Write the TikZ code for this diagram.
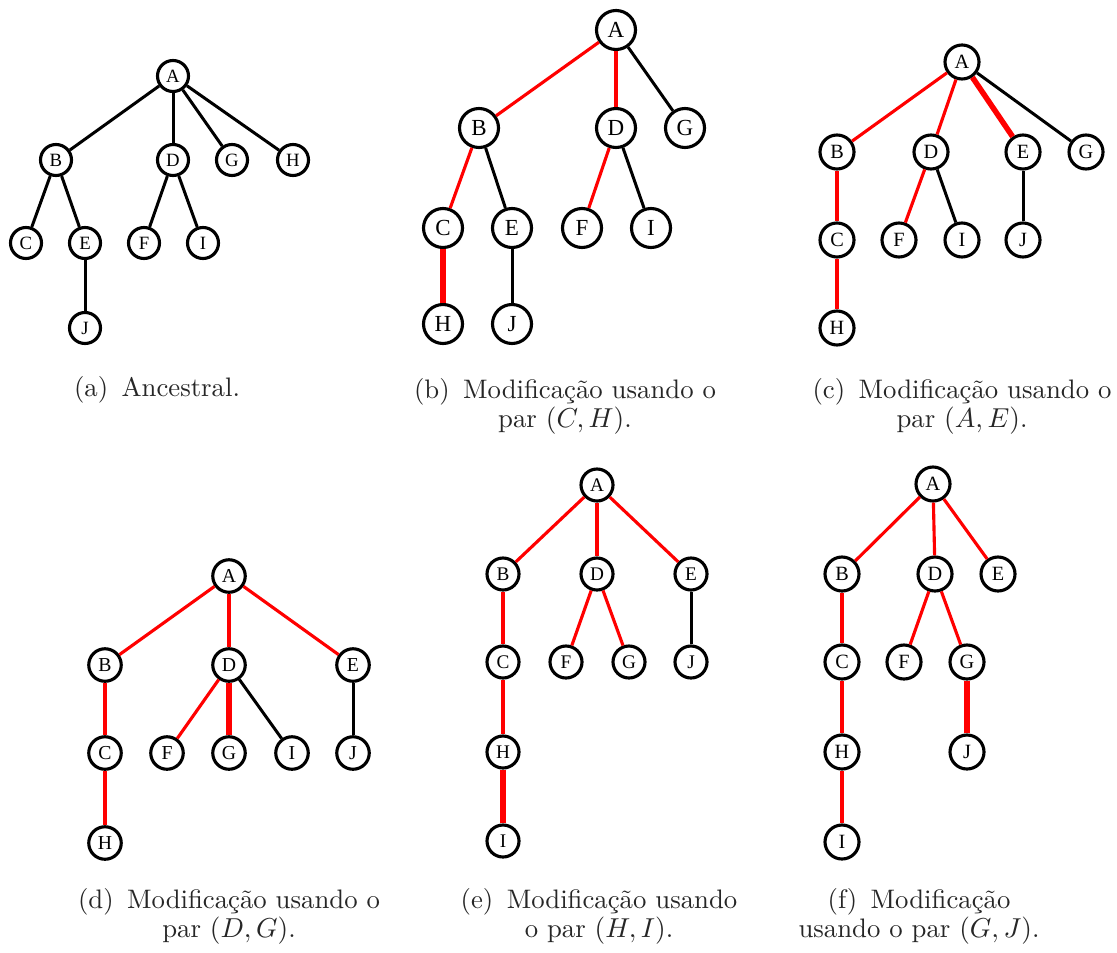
\documentclass[tikz,border=0pt]{standalone}
\usepackage{fontspec}
\newfontfamily\vfont{Liberation Serif}
\tikzset{
  vtx/.style 2 args={circle, draw, line width=1.25pt, inner sep=0pt,
    minimum size=#1, font={\vfont\fontsize{#2}{#2}\selectfont}},
  bedge/.style={draw=black, line width=1.2pt},
  redge/.style={draw=red, line width=1.25pt},
  tedge/.style={draw=red, line width=2.2pt},
  capt/.style={anchor=base, align=center, text=black!85,
    font=\fontsize{10.7}{11.4}\selectfont},
}
\begin{document}
\begin{tikzpicture}[x=0.4pt, y=-0.4pt]
\useasboundingbox (0,0) rectangle (1117,952);

% (a) original tree
\begin{scope}[vertex/.style={vtx={12.4pt}{7.5pt}}]
  \node[vertex] (aA) at (173,76) {A};
  \node[vertex] (aB) at (56,160) {B};
  \node[vertex] (aD) at (173,160) {D};
  \node[vertex] (aG) at (232,160) {G};
  \node[vertex] (aH) at (293,160) {H};
  \node[vertex] (aC) at (26,243) {C};
  \node[vertex] (aE) at (85,243) {E};
  \node[vertex] (aF) at (144,243) {F};
  \node[vertex] (aI) at (203,243) {I};
  \node[vertex] (aJ) at (85,328) {J};
  \path[bedge] (aA) -- (aB);
  \path[bedge] (aA) -- (aD);
  \path[bedge] (aA) -- (aG);
  \path[bedge] (aA) -- (aH);
  \path[bedge] (aB) -- (aC);
  \path[bedge] (aB) -- (aE);
  \path[bedge] (aE) -- (aJ);
  \path[bedge] (aD) -- (aF);
  \path[bedge] (aD) -- (aI);
  \node[capt] (capa) at (157,396) {(a)\, Ancestral.};
\end{scope}

% (b) pair (C,H)
\begin{scope}[vertex/.style={vtx={15.6pt}{9.2pt}}]
  \node[vertex] (bA) at (616,30) {A};
  \node[vertex] (bB) at (479,128) {B};
  \node[vertex] (bD) at (616,128) {D};
  \node[vertex] (bG) at (685,128) {G};
  \node[vertex] (bC) at (443,228) {C};
  \node[vertex] (bE) at (512,228) {E};
  \node[vertex] (bF) at (582,228) {F};
  \node[vertex] (bI) at (651,228) {I};
  \node[vertex] (bH) at (443,324) {H};
  \node[vertex] (bJ) at (512,324) {J};
  \path[redge] (bA) -- (bB);
  \path[redge] (bA) -- (bD);
  \path[bedge] (bA) -- (bG);
  \path[redge] (bB) -- (bC);
  \path[bedge] (bB) -- (bE);
  \path[redge] (bD) -- (bF);
  \path[bedge] (bD) -- (bI);
  \path[tedge] (bC) -- (bH);
  \path[bedge] (bE) -- (bJ);
  \node[capt] (capb) at (565,427) {(b)\, Modificação usando o\\ par $(C,H)$.};
\end{scope}

% (c) pair (A,E)
\begin{scope}[vertex/.style={vtx={13.6pt}{8.1pt}}]
  \node[vertex] (cA) at (962,62) {A};
  \node[vertex] (cB) at (837,152) {B};
  \node[vertex] (cD) at (931,152) {D};
  \node[vertex] (cE) at (1023,152) {E};
  \node[vertex] (cG) at (1086,152) {G};
  \node[vertex] (cC) at (837,240) {C};
  \node[vertex] (cF) at (899,240) {F};
  \node[vertex] (cI) at (962,240) {I};
  \node[vertex] (cJ) at (1023,240) {J};
  \node[vertex] (cH) at (837,328) {H};
  \path[redge] (cA) -- (cB);
  \path[redge] (cA) -- (cD);
  \path[tedge] (cA) -- (cE);
  \path[bedge] (cA) -- (cG);
  \path[redge] (cB) -- (cC);
  \path[redge] (cC) -- (cH);
  \path[redge] (cD) -- (cF);
  \path[bedge] (cD) -- (cI);
  \path[bedge] (cE) -- (cJ);
  \node[capt] (capc) at (962,427) {(c)\, Modificação usando o\\ par $(A,E)$.};
\end{scope}

% (d) pair (D,G)
\begin{scope}[vertex/.style={vtx={13pt}{7.9pt}}]
  \node[vertex] (dA) at (229,576) {A};
  \node[vertex] (dB) at (105,665) {B};
  \node[vertex] (dD) at (229,665) {D};
  \node[vertex] (dE) at (353,665) {E};
  \node[vertex] (dC) at (105,753) {C};
  \node[vertex] (dF) at (167,753) {F};
  \node[vertex] (dG) at (229,753) {G};
  \node[vertex] (dI) at (292,753) {I};
  \node[vertex] (dJ) at (353,753) {J};
  \node[vertex] (dH) at (105,843) {H};
  \path[redge] (dA) -- (dB);
  \path[redge] (dA) -- (dD);
  \path[redge] (dA) -- (dE);
  \path[redge] (dB) -- (dC);
  \path[redge] (dC) -- (dH);
  \path[redge] (dD) -- (dF);
  \path[tedge] (dD) -- (dG);
  \path[bedge] (dD) -- (dI);
  \path[bedge] (dE) -- (dJ);
  \node[capt] (capd) at (229,937) {(d)\, Modificação usando o\\ par $(D,G)$.};
\end{scope}

% (e) pair (H,I)
\begin{scope}[vertex/.style={vtx={12.8pt}{7.7pt}}]
  \node[vertex] (eA) at (597,485) {A};
  \node[vertex] (eB) at (503,574) {B};
  \node[vertex] (eD) at (597,574) {D};
  \node[vertex] (eE) at (691,574) {E};
  \node[vertex] (eC) at (503,662) {C};
  \node[vertex] (eF) at (566,662) {F};
  \node[vertex] (eG) at (629,662) {G};
  \node[vertex] (eJ) at (691,662) {J};
  \node[vertex] (eH) at (503,752) {H};
  \node[vertex] (eI) at (503,841) {I};
  \path[redge] (eA) -- (eB);
  \path[redge] (eA) -- (eD);
  \path[redge] (eA) -- (eE);
  \path[redge] (eB) -- (eC);
  \path[redge] (eC) -- (eH);
  \path[tedge] (eH) -- (eI);
  \path[redge] (eD) -- (eF);
  \path[redge] (eD) -- (eG);
  \path[bedge] (eE) -- (eJ);
  \node[capt] (cape) at (599,937) {(e)\, Modificação usando\\ o par $(H,I)$.};
\end{scope}

% (f) pair (G,J)
\begin{scope}[vertex/.style={vtx={13.6pt}{8.1pt}}]
  \node[vertex] (fA) at (933,484) {A};
  \node[vertex] (fB) at (842,574) {B};
  \node[vertex] (fD) at (935,574) {D};
  \node[vertex] (fE) at (998,574) {E};
  \node[vertex] (fC) at (842,662) {C};
  \node[vertex] (fF) at (904,662) {F};
  \node[vertex] (fG) at (967,662) {G};
  \node[vertex] (fH) at (842,752) {H};
  \node[vertex] (fJ) at (967,752) {J};
  \node[vertex] (fI) at (842,842) {I};
  \path[redge] (fA) -- (fB);
  \path[redge] (fA) -- (fD);
  \path[redge] (fA) -- (fE);
  \path[redge] (fB) -- (fC);
  \path[redge] (fC) -- (fH);
  \path[redge] (fH) -- (fI);
  \path[redge] (fD) -- (fF);
  \path[redge] (fD) -- (fG);
  \path[tedge] (fG) -- (fJ);
  \node[capt] (capf) at (919,937) {(f)\, Modificação\\ usando o par $(G,J)$.};
\end{scope}
\end{tikzpicture}
\end{document}
